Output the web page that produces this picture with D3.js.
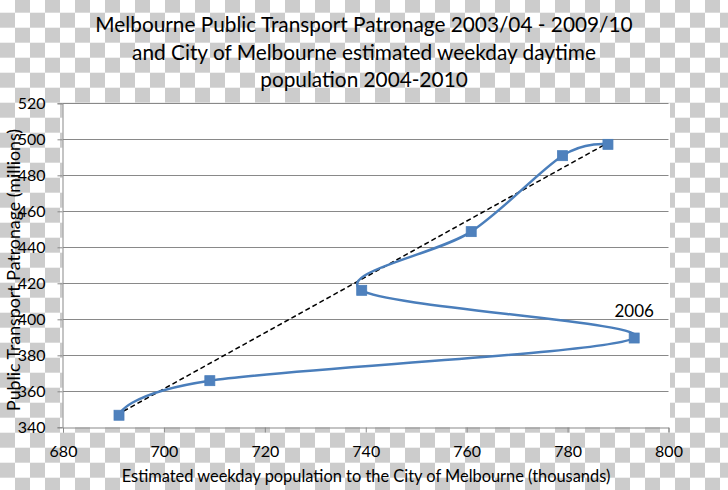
<!DOCTYPE html>
<html>
<head>
<meta charset="utf-8">
<script src="https://cdn.jsdelivr.net/npm/d3@7"></script>
<style>
  html, body { margin: 0; padding: 0; background: #fff; }
  svg { display: block; }
  text { font-family: Lato, "Open Sans", sans-serif; fill: #000; }
</style>
</head>
<body>
<svg id="chart" width="728" height="490"></svg>
<script>
// ---- data ----
const years = ["2004", "2005", "2006", "2007", "2008", "2009", "2010"];
const population = [691.1, 709.1, 793.2, 739.2, 760.9, 779.0, 788.0];   // thousands
const patronage  = [346.7, 365.9, 389.6, 416.1, 448.7, 490.9, 497.2];   // millions
const trendX = [690.6, 789.0];
const trendY = [346.8, 499.6];
const xTicks = [680, 700, 720, 740, 760, 780, 800];
const yTicks = [340, 360, 380, 400, 420, 440, 460, 480, 500, 520];
const labelledYear = "2006";
const titleLines = [
  "Melbourne Public Transport Patronage 2003/04 - 2009/10",
  "and City of Melbourne estimated weekday daytime",
  "population 2004-2010"
];
const xTitle = "Estimated weekday population to the City of Melbourne (thousands)";
const yTitle = "Public Transport Patronage (millions)";

// ---- setup ----
const W = 728, H = 490;
const svg = d3.select("#chart");
const plot = {left: 63, right: 668.5, top: 103.3, bottom: 427.3};

const x = d3.scaleLinear().domain([680, 800]).range([plot.left, plot.right]);
const y = d3.scaleLinear().domain([340, 520]).range([plot.bottom, plot.top]);

// checkerboard (transparent background look)
const defs = svg.append("defs");
const pat = defs.append("pattern")
  .attr("id", "checker").attr("patternUnits", "userSpaceOnUse")
  .attr("x", 0).attr("y", -2.3).attr("width", 30).attr("height", 30);
pat.append("rect").attr("width", 30).attr("height", 30).attr("fill", "#ffffff");
pat.append("rect").attr("x", 15).attr("y", 0).attr("width", 15).attr("height", 15).attr("fill", "#cccccc");
pat.append("rect").attr("x", 0).attr("y", 15).attr("width", 15).attr("height", 15).attr("fill", "#cccccc");
svg.append("rect").attr("width", W).attr("height", H).attr("fill", "url(#checker)");

// plot area
svg.append("rect")
  .attr("x", plot.left - 0.5).attr("y", plot.top)
  .attr("width", plot.right - plot.left + 2).attr("height", plot.bottom - plot.top)
  .attr("fill", "#fff");

// gridlines
svg.append("g").selectAll("line").data(yTicks.filter(d => d !== 340)).join("line")
  .attr("x1", plot.left).attr("x2", plot.right)
  .attr("y1", d => Math.round(y(d)) + 0.5).attr("y2", d => Math.round(y(d)) + 0.5)
  .attr("stroke", "#898989").attr("stroke-width", 1);

// axes
const fontTick = "16px";
const xAxis = d3.axisBottom(x).tickValues(xTicks).tickSize(5).tickPadding(8).tickFormat(d3.format("d"));
const gx = svg.append("g").attr("transform", `translate(0,${Math.round(plot.bottom) + 0.5})`).call(xAxis);
gx.select(".domain").attr("stroke", "#898989");
gx.selectAll(".tick line").attr("stroke", "#898989");
gx.selectAll("text").style("font-family", "Lato").style("font-size", fontTick).attr("fill", "#000").attr("dy", "1em");

const yAxis = d3.axisLeft(y).tickValues(yTicks).tickSize(5).tickPadding(12).tickFormat(d3.format("d"));
const gy = svg.append("g").attr("transform", `translate(${Math.round(plot.left) - 0.5},0)`).call(yAxis);
gy.select(".domain").attr("stroke", "#898989");
gy.selectAll(".tick line").attr("stroke", "#898989");
gy.selectAll("text").style("font-family", "Lato").style("font-size", fontTick).attr("fill", "#000");

// axis titles
svg.append("text")
  .attr("transform", "translate(19.5,270) rotate(-90)")
  .attr("text-anchor", "middle").style("font-size", "17.8px")
  .text(yTitle);
svg.append("text")
  .attr("x", 366).attr("y", 482)
  .attr("text-anchor", "middle").style("font-size", "16.4px")
  .text(xTitle);

// title
const titleBase = [32.3, 59.5, 86.7];
svg.append("g").selectAll("text").data(titleLines).join("text")
  .attr("x", 364).attr("y", (d, i) => titleBase[i])
  .attr("text-anchor", "middle").style("font-size", "20.8px")
  .text(d => d);

// trend (dashed)
const trend = trendX.map((v, i) => [v, trendY[i]]);
svg.append("path")
  .attr("d", d3.line().x(d => x(d[0])).y(d => y(d[1]))(trend))
  .attr("fill", "none").attr("stroke", "#000").attr("stroke-width", 1.5)
  .attr("stroke-dasharray", "5,3");

// smoothed series
const pts = years.map((yr, i) => ({year: yr, px: population[i], py: patronage[i]}));
svg.append("path")
  .attr("d", d3.line().x(d => x(d.px)).y(d => y(d.py)).curve(d3.curveCardinal.tension(0))(pts))
  .attr("fill", "none").attr("stroke", "#4a7ebb").attr("stroke-width", 2.5);

// markers
svg.append("g").selectAll("rect").data(pts).join("rect")
  .attr("x", d => x(d.px) - 5).attr("y", d => y(d.py) - 5)
  .attr("width", 10).attr("height", 10)
  .attr("fill", "#4f81bd").attr("stroke", "#4a7ebb").attr("stroke-width", 0.8);

// data label
const lp = pts.find(d => d.year === labelledYear);
svg.append("text")
  .attr("x", x(lp.px)).attr("y", y(lp.py) - 21.5)
  .attr("text-anchor", "middle").style("font-size", "17px")
  .text(lp.year);
</script>
</body>
</html>
